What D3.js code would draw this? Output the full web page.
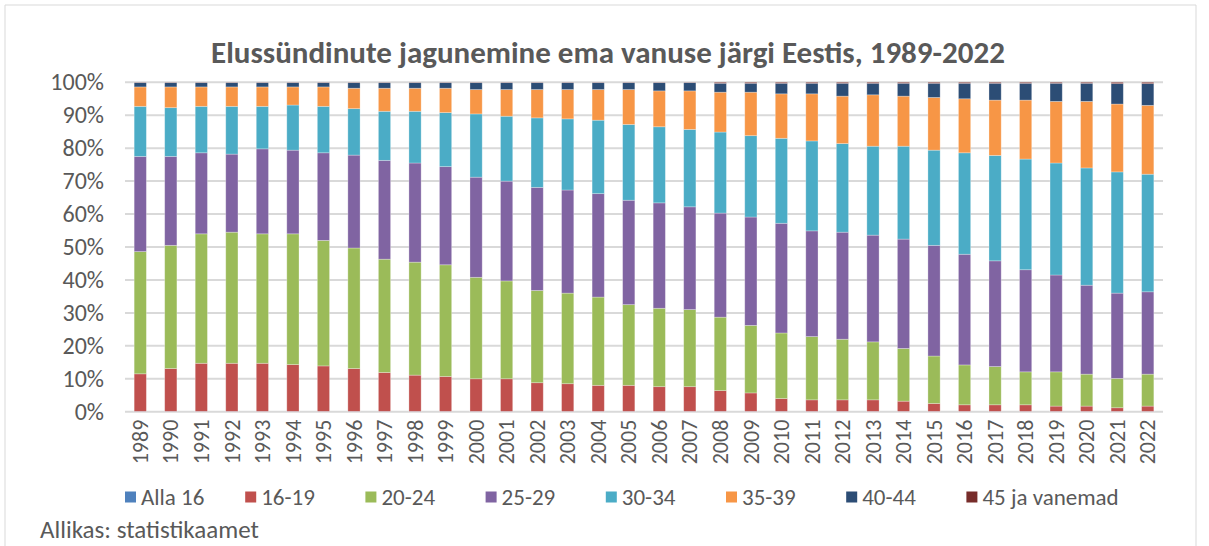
<!DOCTYPE html>
<html>
<head>
<meta charset="utf-8">
<script src="https://cdn.jsdelivr.net/npm/d3@7"></script>
<style>
  body { margin: 0; background: #fff; }
  svg text { font-family: Carlito, "Open Sans", sans-serif; fill: #595959; }
</style>
</head>
<body>
<figure id="chart" style="margin:0"></figure>
<script>
// data (percent of live births by mother's age)
var years = d3.range(1989, 2023).map(String);
var seriesNames = ["Alla 16", "16-19", "20-24", "25-29", "30-34", "35-39", "40-44", "45 ja vanemad"];
var colors = ["#4f81bd", "#c0504d", "#9bbb59", "#8064a2", "#4bacc6", "#f79646", "#2c4d75", "#772c2a"];

var alla16 = [0.1,0.1,0.1,0.1,0.1,0.1,0.1,0.1,0.1,0.1,0.1,0.1,0.1,0.1,0.1,0.1,0.1,0.1,0.1,0.1,0.1,0.1,0.1,0.1,0.1,0.1,0.1,0.1,0.1,0.1,0.1,0.1,0.1,0.1];
var a16_19 = [11.4,13.0,14.6,14.6,14.6,14.2,13.8,13.0,11.8,11.0,10.6,9.9,9.9,8.7,8.4,7.9,7.9,7.5,7.5,6.3,5.6,3.9,3.5,3.5,3.5,3.1,2.4,2.0,2.0,2.0,1.6,1.6,1.1,1.6];
var a20_24 = [37.1,37.4,39.3,39.8,39.3,39.7,38.1,36.6,34.4,34.3,33.9,30.8,29.7,28.0,27.5,26.8,24.5,23.8,23.4,22.3,20.5,19.9,19.2,18.4,17.6,16.0,14.4,12.1,11.6,10.0,10.4,9.7,8.9,9.7];
var a25_29 = [28.9,27.0,24.6,23.7,25.8,25.4,26.6,28.2,30.0,30.1,29.8,30.4,30.3,31.3,31.3,31.4,31.7,32.0,31.2,31.6,32.9,33.3,32.1,32.5,32.4,33.2,33.6,33.6,32.1,31.0,29.4,27.0,25.9,25.0];
var a30_34 = [15.2,14.8,14.1,14.5,12.9,13.7,14.1,14.1,14.9,15.7,16.4,19.2,19.7,21.1,21.6,22.3,23.0,23.1,23.5,24.6,24.7,25.8,27.3,26.9,27.0,28.2,28.9,30.8,32.0,33.6,34.0,35.6,36.8,35.7];
var a35_39 = [5.9,6.3,5.9,5.9,5.9,5.5,5.9,6.2,7.0,7.0,7.4,7.4,8.1,8.6,8.9,9.3,10.6,10.9,11.7,12.1,13.2,13.5,14.3,14.4,15.6,15.2,16.0,16.4,16.8,17.9,18.7,20.2,20.6,20.9];
var a40_44 = [1.3,1.3,1.3,1.3,1.3,1.3,1.3,1.7,1.7,1.7,1.7,2.1,2.1,2.1,2.1,2.1,2.1,2.5,2.5,2.7,2.7,3.2,3.2,3.9,3.5,3.9,4.3,4.7,5.1,5.1,5.5,5.5,6.2,6.6];
var a45plus = [0.1,0.1,0.1,0.1,0.1,0.1,0.1,0.1,0.1,0.1,0.1,0.1,0.1,0.1,0.1,0.1,0.1,0.1,0.1,0.3,0.3,0.3,0.3,0.3,0.3,0.3,0.3,0.3,0.3,0.3,0.3,0.3,0.4,0.4];
var yTicks = [0, 10, 20, 30, 40, 50, 60, 70, 80, 90, 100];

var seriesValues = [alla16, a16_19, a20_24, a25_29, a30_34, a35_39, a40_44, a45plus];

// table for d3.stack
var table = years.map(function(y, i) {
    var row = { year: y };
    seriesNames.forEach(function(s, j) { row[s] = seriesValues[j][i]; });
    return row;
});

var width = 1209, height = 546;

var svg = d3.select("#chart")
    .append("svg")
    .attr("width", width)
    .attr("height", height);

// chart frame
svg.append("path")
    .attr("d", "M5,560 V5 H1196 V560")
    .attr("fill", "none")
    .attr("stroke", "#d9d9d9")
    .attr("stroke-width", 1);

var xScale = d3.scaleBand()
    .domain(years)
    .range([125, 1163])
    .paddingInner(0.6)
    .paddingOuter(0.3);

var yScale = d3.scaleLinear()
    .domain([0, 100])
    .range([411.7, 82.3]);

// grid lines
svg.append("g")
    .selectAll("line")
    .data(yTicks)
    .enter()
    .append("line")
    .attr("x1", 125)
    .attr("x2", 1163)
    .attr("y1", d => yScale(d))
    .attr("y2", d => yScale(d))
    .attr("stroke", "#d9d9d9")
    .attr("stroke-width", 2);

// y axis labels
var yAxis = svg.append("g")
    .attr("transform", "translate(114,0)")
    .call(d3.axisLeft(yScale).tickValues(yTicks).tickSize(0).tickPadding(10).tickFormat(d => d + "%"));
yAxis.select(".domain").remove();
yAxis.selectAll("text")
    .style("font-size", "24px")
    .attr("fill", "#595959");

// stacked bars
var stack = d3.stack().keys(seriesNames);
var layers = stack(table);

svg.append("g")
    .selectAll("g")
    .data(layers)
    .enter()
    .append("g")
    .attr("fill", (d, i) => colors[i])
    .selectAll("rect")
    .data(d => d)
    .enter()
    .append("rect")
    .attr("x", d => xScale(d.data.year))
    .attr("width", xScale.bandwidth())
    .attr("y", d => yScale(d[1]))
    .attr("height", d => yScale(d[0]) - yScale(d[1]))
    .attr("stroke", "#ffffff")
    .attr("stroke-opacity", 0.35)
    .attr("stroke-width", 0.8);

// x axis labels (rotated years)
var xAxis = svg.append("g")
    .attr("transform", "translate(0,411.7)")
    .call(d3.axisBottom(xScale).tickSize(0).tickPadding(0));
xAxis.select(".domain").remove();
xAxis.selectAll("text")
    .attr("transform", "rotate(-90)")
    .attr("text-anchor", "end")
    .attr("x", -8)
    .attr("y", 0)
    .attr("dy", "0.35em")
    .style("font-size", "22px")
    .attr("fill", "#595959");

// title
svg.append("text")
    .attr("x", 608)
    .attr("y", 63)
    .attr("text-anchor", "middle")
    .style("font-size", "31px")
    .style("font-weight", "bold")
    .text("Elussündinute jagunemine ema vanuse järgi Eestis, 1989-2022");

// legend
var legend = svg.append("g")
    .selectAll("g")
    .data(seriesNames)
    .enter()
    .append("g")
    .attr("transform", (d, i) => `translate(${125 + i * 120.2}, 497)`);

legend.append("rect")
    .attr("x", 0)
    .attr("y", -5.5)
    .attr("width", 11)
    .attr("height", 11)
    .attr("fill", (d, i) => colors[i]);

legend.append("text")
    .attr("x", 16)
    .attr("y", 0)
    .attr("dy", "0.35em")
    .style("font-size", "23px")
    .text(d => d);

// source
svg.append("text")
    .attr("x", 40)
    .attr("y", 538)
    .style("font-size", "25px")
    .text("Allikas: statistikaamet");
</script>
</body>
</html>
